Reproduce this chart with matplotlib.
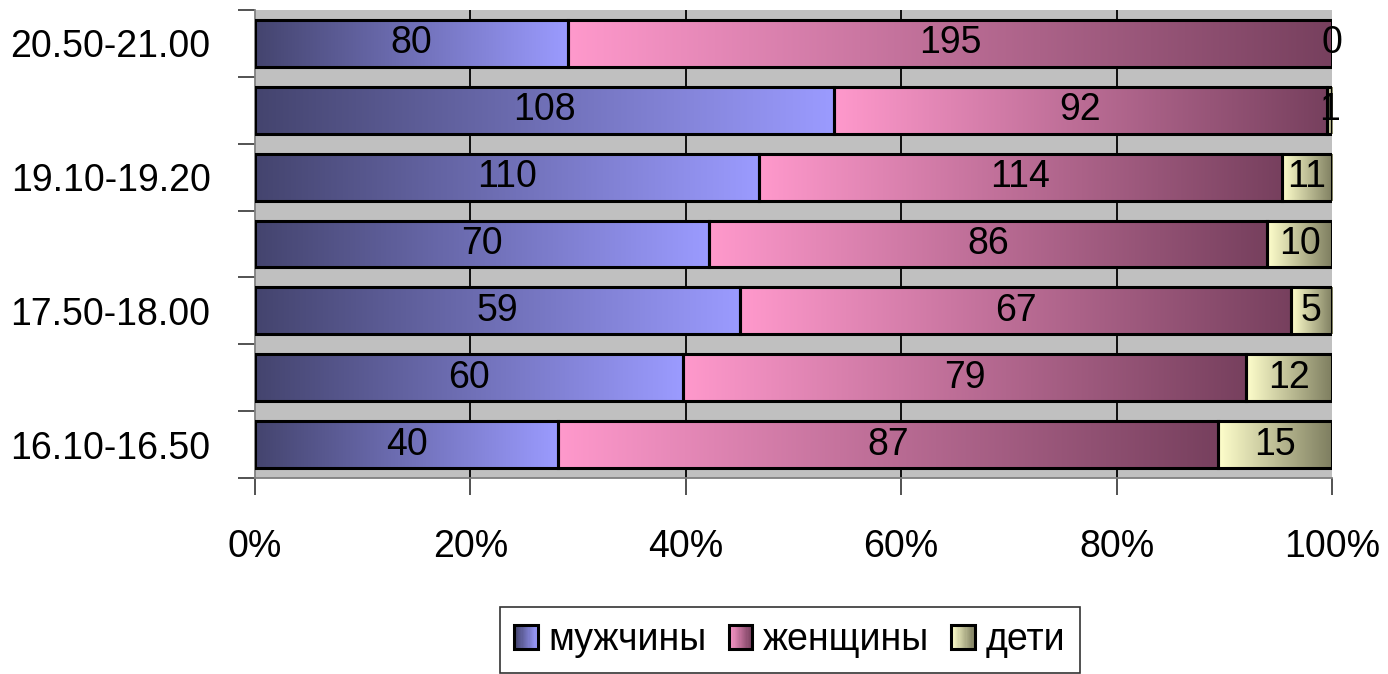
import numpy as np
import matplotlib
matplotlib.use("Agg")
import matplotlib.pyplot as plt
from matplotlib.colors import LinearSegmentedColormap
from matplotlib.patches import Rectangle
from matplotlib.legend_handler import HandlerBase

# data (bottom -> top)
times = ["16.10-16.50", "16.50-17.30", "17.50-18.00", "18.30-18.40",
         "19.10-19.20", "19.50-20.00", "20.50-21.00"]
shown = [True, False, True, False, True, False, True]
men = [40, 60, 59, 70, 110, 108, 80]
women = [87, 79, 67, 86, 114, 92, 195]
kids = [15, 12, 5, 10, 11, 1, 0]
series_names = ["мужчины", "женщины", "дети"]

# gradient colours per series: left colour -> right colour
grads = [("#44446e", "#9b9bff"), ("#ff99cc", "#77405e"), ("#ffffcc", "#7e7e60")]
cmaps = [LinearSegmentedColormap.from_list("g%d" % i, g) for i, g in enumerate(grads)]

plt.rcParams["font.family"] = ["Liberation Sans", "DejaVu Sans"]
FS = 27

fig = plt.figure(figsize=(13.88, 6.74), dpi=100)
ax = fig.add_axes([255/1388, 1-478/674, 1077/1388, 468/674])
ax.set_facecolor("#c0c0c0")

grad_img = np.linspace(0, 1, 256).reshape(1, -1)
bar_h = 0.7
data = np.array([men, women, kids], dtype=float)
totals = data.sum(axis=0)

for i in range(len(times)):
    left = 0.0
    for s in range(3):
        w = data[s, i] / totals[i]
        y0, y1 = i - bar_h/2, i + bar_h/2
        if w > 0:
            ax.imshow(grad_img, cmap=cmaps[s], aspect="auto",
                      extent=(left, left + w, y0, y1), zorder=2,
                      interpolation="bilinear")
            ax.add_patch(Rectangle((left, y0), w, bar_h, fill=False,
                                   ec="black", lw=2.2, zorder=3))
        ax.text(left + w/2, i, "%d" % data[s, i], ha="center", va="center",
                fontsize=FS, zorder=4)
        left += w

ax.set_xlim(0, 1)
ax.set_ylim(-0.5, len(times) - 0.5)
for x in [0.2, 0.4, 0.6, 0.8]:
    ax.axvline(x, color="black", lw=1.3, zorder=1)

ax.set_xticks(np.linspace(0, 1, 6))
ax.set_xticklabels(["0%", "20%", "40%", "60%", "80%", "100%"], fontsize=FS)
ax.set_yticks(np.arange(-0.5, len(times), 1.0))
ax.set_yticklabels([])
ax.set_yticks(np.arange(len(times)), minor=True)
ax.set_yticklabels([t if sh else "" for t, sh in zip(times, shown)], minor=True, fontsize=FS)
ax.tick_params(axis="y", which="minor", length=0, pad=32)
ax.tick_params(axis="y", which="major", length=12, width=1.3, color="#444444")
ax.tick_params(axis="x", length=12, width=1.3, color="#444444", pad=25)
for sp in ["top", "right"]:
    ax.spines[sp].set_visible(False)
ax.spines["left"].set_color("#808080")
ax.spines["bottom"].set_color("#808080")
ax.spines["left"].set_linewidth(1.3)
ax.spines["bottom"].set_linewidth(1.3)


class GradHandler(HandlerBase):
    def __init__(self, cmap):
        super().__init__()
        self.cmap = cmap

    def create_artists(self, legend, orig_handle, xdescent, ydescent,
                       width, height, fontsize, trans):
        n = 20
        size = height * 0.9
        x0 = -xdescent + (width - size) / 2
        y0 = -ydescent + (height - size) / 2
        arts = []
        for k in range(n):
            r = Rectangle((x0 + k*size/n, y0), size/n + 0.3, size,
                          fc=self.cmap(k/(n-1)), ec="none", transform=trans)
            arts.append(r)
        arts.append(Rectangle((x0, y0), size, size, fill=False, ec="black",
                              lw=2.2, transform=trans))
        return arts


handles = [Rectangle((0, 0), 1, 1) for _ in range(3)]
leg = fig.legend(handles, series_names, loc="center", bbox_to_anchor=(790/1388, 1-640/674),
                 ncol=3, fontsize=FS, frameon=True, fancybox=False, edgecolor="black",
                 handler_map={h: GradHandler(c) for h, c in zip(handles, cmaps)},
                 handlelength=0.6, handletextpad=0.3, columnspacing=0.6,
                 borderpad=0.4, borderaxespad=0)
leg.get_frame().set_linewidth(1.2)

fig.savefig("out.png", dpi=100)
